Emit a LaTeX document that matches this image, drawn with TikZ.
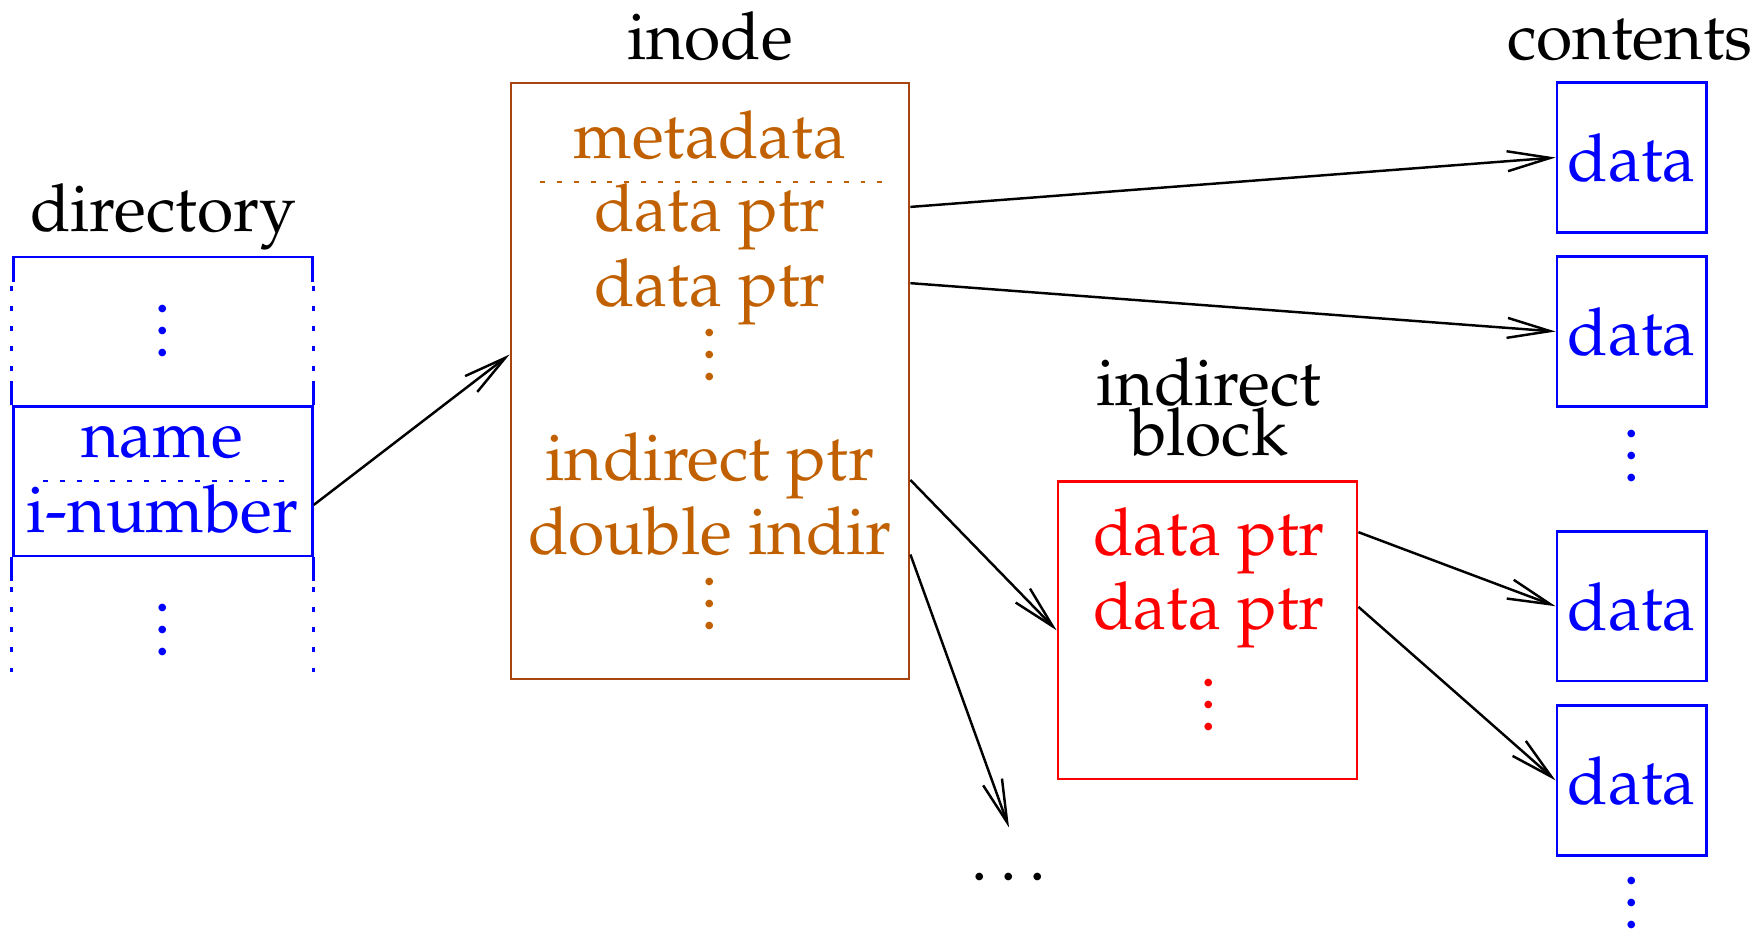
\documentclass[tikz,border=0pt]{standalone}
\usepackage[T1]{fontenc}
\usepackage{mathpazo}
\usepackage{xcolor}
\usepackage{tikz}
\usetikzlibrary{arrows.meta, calc}
\definecolor{inodetxt}{HTML}{C06000}
\definecolor{inodebd}{HTML}{A84410}
\newcommand{\bigtxt}{\fontsize{18.8}{21}\selectfont}
\newcommand{\vdts}{\vbox{\baselineskip=6.3pt\lineskiplimit=0pt\hbox{.}\hbox{.}\hbox{.}}}

\begin{document}
\begin{tikzpicture}[x=0.1mm, y=-0.1mm,
    txt/.style={font=\bigtxt, inner sep=0pt, anchor=base},
    itxt/.style={txt, text=inodetxt},
    btxt/.style={txt, text=blue},
    rtxt/.style={txt, text=red},
    vd/.style={font=\bigtxt, inner sep=0pt},
    box/.style={draw, line width=0.8pt, inner sep=0pt},
    ptr/.style={-{Straight Barb[length=4.3mm, width=2mm]}, line width=0.7pt},
    sep/.style={line width=0.7pt, dash pattern=on 1.4pt off 3.4pt},
    side/.style={line width=0.8pt, blue, dash pattern=on 1.4pt off 4.3pt}]
  \useasboundingbox (0,0) rectangle (1760,931);
  % directory
  \node[txt] (dirl) at (163,231) {directory};
  \node[box, draw=blue, minimum width=29.9mm, minimum height=14.93mm] (rec) at (162.8,481.3) {};
  \draw[blue, line width=0.8pt] (13.3,282) -- (13.3,257) -- (312.3,257) -- (312.3,282);
  \foreach \c in {west,east} {
    \draw[blue, line width=0.8pt] (rec.north \c) -- ++(0,-24);
    \draw[blue, line width=0.8pt] (rec.south \c) -- ++(0,24);
    \draw[side] (rec.north \c) ++(0,-34) -- ++(0,-85);
    \draw[side] (rec.south \c) ++(0,30) -- ++(0,85);
  }
  \node[vd, text=blue] (dvd1) at (163,331) {\vdts};
  \node[btxt] (name) at (162,457) {name};
  \draw[sep, blue] (43,481) -- (288,481);
  \node[btxt] (inum) at (162.5,532) {i-number};
  \node[vd, text=blue] (dvd2) at (163,630) {\vdts};
  % inode
  \node[txt] (inol) at (710,59.5) {inode};
  \node[box, draw=inodebd, minimum width=39.8mm, minimum height=59.6mm] (inode) at (710,381) {};
  \node[itxt] (meta) at (710,158.5) {metadata};
  \draw[sep, inodetxt] (540,182) -- (886,182);
  \node[itxt] (idp1) at (710,231.5) {data ptr};
  \node[itxt] (idp2) at (710,306) {data ptr};
  \node[vd, text=inodetxt] (ivd1) at (710,354.5) {\vdts};
  \node[itxt] (iind) at (710,480) {indirect ptr};
  \node[itxt] (idbl) at (710,554.5) {double indir};
  \node[vd, text=inodetxt] (ivd2) at (710,604) {\vdts};
  \node[vd] (dts) at (1009,877) {$\ldots$};
  % indirect block
  \node[txt] (blkl1) at (1209,405) {indirect};
  \node[txt] (blkl2) at (1209,455) {block};
  \node[box, draw=red, minimum width=29.9mm, minimum height=29.75mm] (blk) at (1207.5,630.3) {};
  \node[rtxt] (bdp1) at (1209,555) {data ptr};
  \node[rtxt] (bdp2) at (1209,629) {data ptr};
  \node[vd, text=red] (bvd) at (1209,705) {\vdts};
  % contents
  \node[txt] (conl) at (1630,59.5) {contents};
  \foreach \n/\y in {1/157.5, 2/331.5, 3/606.2, 4/780.4} {
    \node[box, draw=blue, minimum size=14.95mm] (c\n) at (1631.7,\y) {};
    \node[btxt] (d\n) at ($(c\n.center)+(0,24)$) {data};
  }
  \node[vd, text=blue] (cvd1) at (1632,456) {\vdts};
  \node[vd, text=blue] (cvd2) at (1632,903) {\vdts};
  % pointers
  \draw[ptr] ($(rec.east |- inum.base)+(0,7.7pt)$) -- (inode.west |- ivd1);
  \draw[ptr] ($(inode.east |- idp1.base)+(0,7pt)$) -- (c1.west);
  \draw[ptr] ($(inode.east |- idp2.base)+(0,6.5pt)$) -- (c2.west);
  \draw[ptr] (inode.east |- iind.base) -- (blk.west);
  \draw[ptr] (inode.east |- idbl.base) -- ([yshift=12.8pt]dts.north);
  \draw[ptr] ($(blk.east |- bdp1.base)+(0,6.5pt)$) -- (c3.west);
  \draw[ptr] ($(blk.east |- bdp2.base)+(0,6.3pt)$) -- (c4.west);
\end{tikzpicture}
\end{document}
